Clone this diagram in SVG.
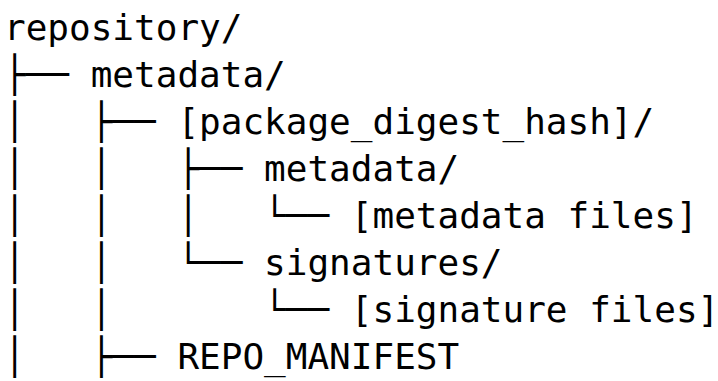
<svg xmlns="http://www.w3.org/2000/svg" width="718" height="381" viewBox="0 0 718 381">
<style>
text{font-family:"DejaVu Sans Mono",monospace;font-size:36px;fill:#000;white-space:pre}
</style>
<rect width="718" height="381" fill="#fff"/>
<g id="tree">
<text x="4" y="39.5" xml:space="preserve">repository/</text>
<text x="4" y="86.5" xml:space="preserve">├── metadata/</text>
<text x="4" y="133.5" xml:space="preserve">│   ├── [package_digest_hash]/</text>
<text x="4" y="180.5" xml:space="preserve">│   │   ├── metadata/</text>
<text x="4" y="227.5" xml:space="preserve">│   │   │   └── [metadata files]</text>
<text x="4" y="274.5" xml:space="preserve">│   │   └── signatures/</text>
<text x="4" y="321.5" xml:space="preserve">│   │       └── [signature files]</text>
<text x="4" y="368.5" xml:space="preserve">│   ├── REPO_MANIFEST</text>
</g>
</svg>
